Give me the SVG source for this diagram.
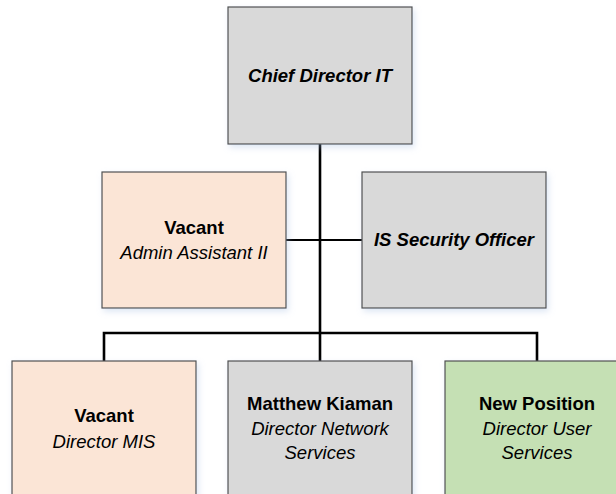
<svg xmlns="http://www.w3.org/2000/svg" width="616" height="494" viewBox="0 0 616 494">
  <style>
    .box { stroke: #505050; stroke-width: 1.2; filter: url(#glow); }
    .grey { fill: #d9d9d9; }
    .peach { fill: #fbe5d6; }
    .green { fill: #c5e0b4; }
    .wire { stroke: #000; stroke-width: 2.6; fill: none; }
    .side { stroke: #000; stroke-width: 2.2; fill: none; }
    text { font-family: "Liberation Sans", Arial, sans-serif; font-size: 18.5px; fill: #000; text-anchor: middle; }
    .b { font-weight: bold; }
    .i { font-style: italic; }
    .bi { font-weight: bold; font-style: italic; }
  </style>
  <defs>
    <filter id="glow" x="-10%" y="-10%" width="125%" height="125%">
      <feDropShadow dx="2" dy="3" stdDeviation="3" flood-color="#9db8e0" flood-opacity="0.35"/>
    </filter>
  </defs>
  <rect width="616" height="494" fill="#fff"/>

  <!-- reporting lines -->
  <g id="connectors">
    <line class="wire" x1="320" y1="144" x2="320" y2="334"/>
    <line class="side" x1="286" y1="240" x2="362" y2="240"/>
    <polyline class="wire" points="104,361 104,333 537,333 537,361"/>
    <line class="wire" x1="320" y1="333" x2="320" y2="361"/>
  </g>

  <g id="chief-director-it">
    <rect class="box grey" x="228" y="7" width="184" height="137"/>
    <text class="bi" x="320" y="82">Chief Director IT</text>
  </g>

  <g id="admin-assistant">
    <rect class="box peach" x="102" y="172" width="184" height="136"/>
    <text class="b" x="194" y="234">Vacant</text>
    <text class="i" x="194" y="259">Admin Assistant II</text>
  </g>

  <g id="is-security-officer">
    <rect class="box grey" x="362" y="172" width="184" height="136"/>
    <text class="bi" x="454" y="246">IS Security Officer</text>
  </g>

  <g id="director-mis">
    <rect class="box peach" x="12" y="361" width="184" height="140"/>
    <text class="b" x="104" y="422">Vacant</text>
    <text class="i" x="104" y="448">Director MIS</text>
  </g>

  <g id="director-network-services">
    <rect class="box grey" x="228" y="361" width="184" height="140"/>
    <text class="b" x="320" y="410">Matthew Kiaman</text>
    <text class="i" x="320" y="435">Director Network</text>
    <text class="i" x="320" y="459">Services</text>
  </g>

  <g id="director-user-services">
    <rect class="box green" x="445" y="361" width="184" height="140"/>
    <text class="b" x="537" y="410">New Position</text>
    <text class="i" x="537" y="435">Director User</text>
    <text class="i" x="537" y="459">Services</text>
  </g>
</svg>
